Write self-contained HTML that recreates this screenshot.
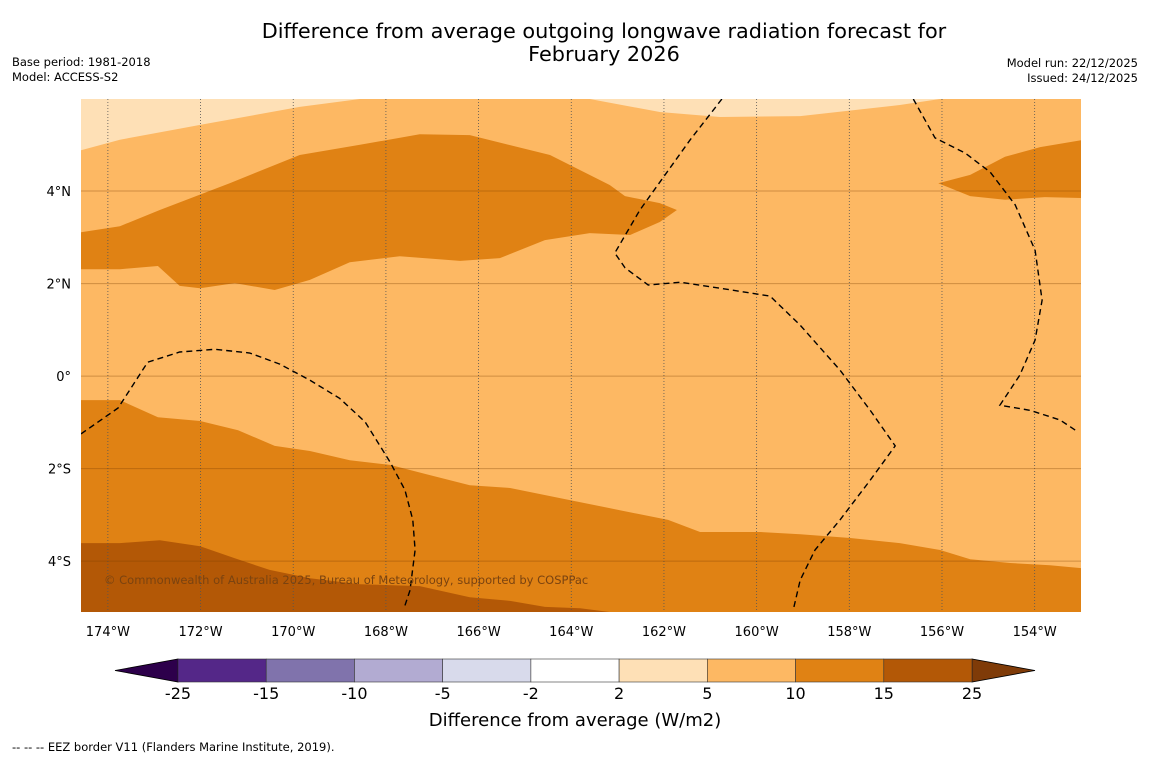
<!DOCTYPE html>
<html><head><meta charset="utf-8">
<style>
html,body{margin:0;padding:0;background:#fff;}
body{width:1150px;height:758px;overflow:hidden;font-family:"DejaVu Sans","Liberation Sans",sans-serif;}
svg text{font-family:"DejaVu Sans","Liberation Sans",sans-serif;}
</style></head>
<body>
<svg id="chart" width="1150" height="758" viewBox="0 0 1150 758" xmlns="http://www.w3.org/2000/svg">
<text x="604" y="38" font-size="20.8" text-anchor="middle" fill="#000">Difference from average outgoing longwave radiation forecast for</text>
<text x="604" y="61" font-size="20.8" text-anchor="middle" fill="#000">February 2026</text>
<text x="12" y="66" font-size="11.5">Base period: 1981-2018</text>
<text x="12" y="81" font-size="11.5">Model: ACCESS-S2</text>
<text x="1138" y="67" font-size="11.5" text-anchor="end">Model run: 22/12/2025</text>
<text x="1138" y="82" font-size="11.5" text-anchor="end">Issued: 24/12/2025</text>
<defs><clipPath id="mapclip"><rect x="81" y="99" width="1000" height="513"/></clipPath></defs>
<g id="map" clip-path="url(#mapclip)">
<rect x="81" y="99" width="1000" height="513" fill="#fdb863"/>
</g>
<g id="axes"></g>
<g id="cbar"></g>
<text x="575" y="726" font-size="18" text-anchor="middle">Difference from average (W/m2)</text>
<text x="12" y="751" font-size="11.5">--  --  -- EEZ border V11 (Flanders Marine Institute, 2019).</text>
</svg>
<script>
// Map extents (degrees; west longitudes negative)
const lonMin = -174.58, lonMax = -153.0, latMin = -5.10, latMax = 5.99;
const lonTicks = [-174,-172,-170,-168,-166,-164,-162,-160,-158,-156,-154];
const latTicks = [4,2,0,-2,-4];
const latTickLabels = ["4°N","2°N","0°","2°S","4°S"];

// Filled contour regions (lon, lat pairs)
const lightNW = [[-174.58,5.99],[-168.56,5.99],[-169.86,5.82],[-172.01,5.43],[-173.74,5.11],[-174.58,4.88]];
const lightNE = [[-163.60,5.99],[-162.09,5.71],[-160.79,5.60],[-159.06,5.62],[-156.91,5.86],[-156.04,5.99]];
const darkN = [[-174.58,3.11],[-173.74,3.24],[-172.88,3.59],[-171.37,4.17],[-169.86,4.78],[-168.56,5.0],[-167.27,5.23],[-166.19,5.21],[-164.46,4.78],[-163.17,4.13],[-162.84,3.89],[-162.09,3.74],[-161.72,3.59],[-162.09,3.33],[-162.73,3.05],[-163.60,3.09],[-164.57,2.94],[-165.54,2.55],[-166.40,2.49],[-167.70,2.59],[-168.78,2.46],[-169.64,2.08],[-170.40,1.86],[-171.26,2.01],[-172.01,1.90],[-172.45,1.95],[-172.92,2.38],[-173.74,2.31],[-174.58,2.31]];
const darkNE = [[-156.08,4.17],[-155.39,4.35],[-154.64,4.74],[-153.88,4.95],[-153.0,5.10],[-153.0,3.85],[-153.78,3.87],[-154.64,3.81],[-155.39,3.89]];
const darkS = [[-174.58,-0.52],[-173.74,-0.52],[-172.92,-0.89],[-172.01,-0.97],[-171.19,-1.17],[-170.40,-1.51],[-169.64,-1.62],[-168.78,-1.82],[-167.91,-1.92],[-167.05,-2.14],[-166.19,-2.36],[-165.32,-2.42],[-164.03,-2.68],[-162.95,-2.90],[-161.91,-3.11],[-161.22,-3.37],[-159.93,-3.37],[-159.06,-3.42],[-157.98,-3.50],[-156.91,-3.61],[-156.04,-3.76],[-155.39,-3.96],[-154.53,-4.04],[-153.67,-4.09],[-153.0,-4.15],[-153.0,-5.10],[-174.58,-5.10]];
const darkestS = [[-174.58,-3.61],[-173.74,-3.61],[-172.88,-3.55],[-172.01,-3.68],[-171.26,-3.94],[-170.51,-4.19],[-169.64,-4.37],[-168.56,-4.50],[-167.27,-4.54],[-166.19,-4.78],[-165.32,-4.86],[-164.57,-4.99],[-163.81,-5.02],[-163.17,-5.10],[-174.58,-5.10]];

// EEZ borders
const eez1 = [[-174.58,-1.25],[-173.78,-0.69],[-173.14,0.30],[-172.45,0.52],[-171.69,0.58],[-170.94,0.50],[-170.29,0.26],[-169.64,-0.09],[-169.0,-0.48],[-168.45,-0.99],[-167.91,-1.86],[-167.59,-2.46],[-167.42,-3.11],[-167.37,-3.76],[-167.48,-4.63],[-167.61,-5.02]];
const eez2 = [[-160.75,5.99],[-161.44,5.10],[-162.52,3.59],[-163.06,2.66],[-162.84,2.34],[-162.34,1.97],[-161.65,2.03],[-160.79,1.90],[-159.71,1.73],[-159.06,1.10],[-158.20,0.13],[-157.55,-0.74],[-157.01,-1.51],[-157.55,-2.25],[-158.20,-3.11],[-158.74,-3.76],[-159.06,-4.41],[-159.21,-5.06]];
const eez3 = [[-156.62,5.99],[-156.15,5.15],[-155.50,4.82],[-154.96,4.41],[-154.42,3.70],[-153.99,2.72],[-153.84,1.64],[-153.99,0.78],[-154.32,0.02],[-154.75,-0.63],[-154.10,-0.74],[-153.45,-0.95],[-153.06,-1.21]];

// Colorbar
const cbLevels = ["-25","-15","-10","-5","-2","2","5","10","15","25"];
const cbColors = ["#542788","#8073ac","#b2abd2","#d8daeb","#ffffff","#fee0b6","#fdb863","#e08214","#b35806"];

const NS = "http://www.w3.org/2000/svg";
const X0=81, X1=1081, Y0=99, Y1=612;
function xs(lon){return X0+(lon-lonMin)/(lonMax-lonMin)*(X1-X0);}
function ys(lat){return Y1-(lat-latMin)/(latMax-latMin)*(Y1-Y0);}
function mk(tag,attrs,parent){const e=document.createElementNS(NS,tag);for(const k in attrs)e.setAttribute(k,attrs[k]);parent.appendChild(e);return e;}
function pts(a){return a.map(p=>xs(p[0]).toFixed(1)+","+ys(p[1]).toFixed(1)).join(" ");}

const map=document.getElementById("map");
const regions=[[lightNW,"#fee0b6","light-region-nw"],[lightNE,"#fee0b6","light-region-ne"],[darkN,"#e08214","high-anomaly-north"],[darkNE,"#e08214","high-anomaly-northeast"],[darkS,"#e08214","high-anomaly-south"],[darkestS,"#b35806","very-high-anomaly-south"]];
regions.forEach(r=>{
  const e=mk("polygon",{points:pts(r[0]),fill:r[1]},map);
  
  
});
// gridlines
lonTicks.forEach(l=>{
  const e=mk("line",{x1:xs(l),x2:xs(l),y1:Y0,y2:Y1,stroke:"#555","stroke-width":0.8,"stroke-dasharray":"1,2"},map);
  
  
});
latTicks.forEach(l=>{
  const e=mk("line",{x1:X0,x2:X1,y1:ys(l),y2:ys(l),stroke:"rgba(120,60,0,0.35)","stroke-width":1},map);
  
  
});
[eez1,eez2,eez3].forEach(a=>{
  const e=mk("polyline",{points:pts(a),fill:"none",stroke:"#000","stroke-width":1.4,"stroke-dasharray":"6,4"},map);
  
  
});
const cr=mk("text",{x:104,y:584,"font-size":11.5,fill:"#7a4310"},map);


cr.textContent="© Commonwealth of Australia 2025, Bureau of Meteorology, supported by COSPPac";

const axes=document.getElementById("axes");
lonTicks.forEach(l=>{
  const t=mk("text",{x:xs(l),y:636,"font-size":13,"text-anchor":"middle"},axes);
  
  
  t.textContent=Math.abs(l)+"°W";
});
latTicks.forEach((l,i)=>{
  const t=mk("text",{x:71,y:ys(l)+5,"font-size":13,"text-anchor":"end"},axes);
  
  
  t.textContent=latTickLabels[i];
});

const cb=document.getElementById("cbar");
const cbX0=178, cbX1=972, cbY=659, cbH=23, n=cbColors.length, w=(cbX1-cbX0)/n;
const lt=mk("polygon",{points:`${cbX0},${cbY} ${cbX0},${cbY+cbH} 115,${cbY+cbH/2}`,fill:"#2d004b",stroke:"#000","stroke-width":0.8},cb);


const rt=mk("polygon",{points:`${cbX1},${cbY} ${cbX1},${cbY+cbH} 1035,${cbY+cbH/2}`,fill:"#7f3b08",stroke:"#000","stroke-width":0.8},cb);


cbColors.forEach((c,i)=>{
  const r=mk("rect",{x:cbX0+i*w,y:cbY,width:w,height:cbH,fill:c,stroke:"#333","stroke-width":0.6},cb);
  
  
});
cbLevels.forEach((s,i)=>{
  const t=mk("text",{x:cbX0+i*w,y:699,"font-size":16,"text-anchor":"middle"},cb);
  
  
  t.textContent=s;
});
</script>
</body></html>
